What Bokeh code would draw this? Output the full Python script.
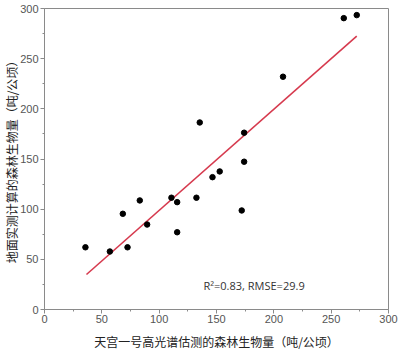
from bokeh.plotting import figure
from bokeh.models import ColumnDataSource, Range1d, FixedTicker, Label
from bokeh.embed import file_html
from bokeh.resources import INLINE

est_x = [35.7, 57, 68.3, 72.4, 83.1, 89.5, 110.7, 115.7, 115.7, 132.5, 135.4,
         146.5, 152.8, 174.1, 174.1, 172, 208, 261, 272.3]
obs_y = [62, 57.8, 95.4, 62, 108.7, 84.7, 111.4, 107, 77, 111.4, 186.4,
         131.9, 137.6, 176.2, 147.3, 98.7, 232, 290.4, 293.4]
fit_x = [36.6, 272.3]
fit_y = [34.9, 272.5]
ticks = [0, 50, 100, 150, 200, 250, 300]
minor = [25, 75, 125, 175, 225, 275]
x_title = "天宫一号高光谱估测的森林生物量（吨/公顷）"
y_title = "地面实测计算的森林生物量（吨/公顷）"
stat_text = "R²=0.83, RMSE=29.9"

p = figure(width=400, height=355, output_backend="svg", toolbar_location=None,
           x_range=Range1d(0, 300), y_range=Range1d(0, 300),
           min_border_left=10, min_border_right=12, min_border_top=8, min_border_bottom=46)
p.xgrid.visible = False
p.ygrid.visible = False
p.outline_line_color = "#8a8a8a"
p.outline_line_width = 1

for ax in (p.xaxis[0], p.yaxis[0]):
    ax.ticker = FixedTicker(ticks=ticks, minor_ticks=minor)
    ax.axis_line_color = "#8a8a8a"
    ax.major_tick_line_color = "#8a8a8a"
    ax.minor_tick_line_color = "#8a8a8a"
    ax.major_tick_out = 4
    ax.major_tick_in = 0
    ax.minor_tick_out = 2
    ax.minor_tick_in = 0
    ax.major_label_text_color = "#555555"
    ax.major_label_text_font = "Liberation Sans"
    ax.major_label_text_font_size = "11px"
    ax.axis_label_text_font = "Noto Sans CJK SC"
    ax.axis_label_text_font_size = "12px"
    ax.axis_label_text_font_style = "normal"
    ax.axis_label_text_color = "#222222"

p.xaxis[0].axis_label = x_title
p.yaxis[0].axis_label = y_title
p.xaxis[0].major_label_standoff = 1
p.yaxis[0].major_label_standoff = 2
p.xaxis[0].axis_label_standoff = 7
p.yaxis[0].axis_label_standoff = -3

p.line(fit_x, fit_y, line_color="#d63a4e", line_width=1.6)
src = ColumnDataSource(dict(x=est_x, y=obs_y))
p.scatter("x", "y", source=src, size=5.5, fill_color="black", line_color="black")

p.add_layout(Label(x=138.6, y=24, text=stat_text, text_font="Open Sans",
                   text_font_size="11px", text_color="#333333",
                   text_baseline="middle", text_align="left"))

open("out.html", "w").write(file_html(p, INLINE))
